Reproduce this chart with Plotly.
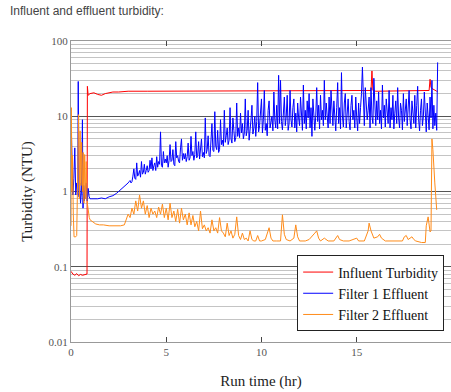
import plotly.graph_objects as go

# ---------------- data ----------------
influent_t = [0, 0.1, 0.2, 0.3, 0.4, 0.5, 0.6, 0.7, 0.8, 0.84, 0.86, 0.9, 1.0, 1.2, 1.4,
              1.6, 1.8, 2.0, 2.2, 2.5, 3, 4, 5, 6, 7, 8, 9, 10, 11, 12, 13, 14, 15,
              15.6, 15.75, 15.8, 15.85, 16, 17, 18, 18.6, 18.8, 18.85, 18.9, 19.0,
              19.1, 19.2, 19.25]
influent_v = [0.087, 0.08, 0.077, 0.081, 0.076, 0.079, 0.077, 0.078, 0.079, 0.08, 25, 19,
              20, 20.5, 19.5, 19, 20, 20.5, 21, 21, 21.5, 21.5, 21.5, 21.8, 21.5, 21.6,
              21.5, 21.7, 21.5, 21.6, 21.5, 21.7, 21.5, 21.6, 22, 40, 22, 21.5, 21.6,
              21.5, 21.7, 22, 31, 24, 23, 22, 21.5, 21.5]

# Filter 1: start-up part (irregular sampling)
filter1_start_t = [0, 0.02, 0.05, 0.1, 0.15, 0.2, 0.25, 0.3, 0.35, 0.38, 0.42, 0.46, 0.5,
                   0.55, 0.6, 0.63, 0.67, 0.7, 0.75, 0.8, 0.85, 0.9, 0.95, 1.0, 1.1, 1.2,
                   1.4, 1.6, 1.8, 2.0, 2.2, 2.4, 2.6, 2.8]
filter1_start_v = [4, 6.5, 3, 0.9, 1.5, 3.8, 0.9, 1.3, 0.9, 29, 0.85, 1.3, 0.7,
                   1.0, 9, 0.6, 1.2, 0.75, 1.1, 1.3, 0.75, 1.1, 0.85, 0.8, 0.8, 0.8,
                   0.8, 0.82, 0.8, 0.85, 0.88, 0.95, 1.05, 1.15]
# Filter 1: from 3.0 h, one reading every 0.05 h (rows = one hour each)
filter1_run_v = [
    1.3, 1.35, 1.4, 1.3, 1.35, 1.6, 2.0, 1.5, 1.45, 2.4, 1.6, 1.7, 1.9, 1.55, 2.5, 1.7, 1.8, 2.3, 1.7, 1.9,
    2.2, 1.8, 1.9, 2.6, 2.0, 2.8, 1.9, 2.2, 2.4, 1.9, 2.9, 2.1, 2.5, 2.3, 6.2, 2.2, 2.1, 3.4, 2.4, 2.7,
    2.4, 3.0, 2.1, 2.6, 4.2, 2.5, 2.6, 3.6, 2.3, 2.2, 4.6, 2.8, 3.0, 2.5, 2.4, 3.8, 5.0, 2.6, 3.2, 2.7,
    3.2, 2.5, 2.9, 4.4, 2.6, 2.8, 5.4, 3.0, 3.4, 2.6, 3.1, 6.2, 2.8, 3.0, 4.6, 2.7, 3.6, 5.0, 2.9, 3.3,
    2.8, 9.5, 3.2, 3.6, 5.5, 3.0, 2.9, 4.2, 8.0, 3.5, 3.4, 11.5, 4.0, 3.6, 6.5, 3.3, 3.6, 9.0, 4.2, 4.8,
    4.0, 12, 4.5, 5.5, 7.0, 4.2, 4.8, 13, 5.0, 4.4, 9.5, 6.5, 4.6, 5.2, 15, 5.4, 7.0, 5.2, 11, 6.0,
    8.0, 5.0, 6.0, 17, 5.5, 6.5, 12, 4.8, 6.2, 9.0, 14, 5.8, 7.0, 10, 5.4, 8.5, 28, 6.2, 7.5, 11,
    17, 6.0, 9.0, 22, 6.5, 8.0, 5.5, 12, 16, 7.0, 8.5, 10, 6.4, 21, 9.0, 7.0, 14, 6.8, 35, 8.0,
    30, 8.5, 6.6, 12, 18, 7.5, 10, 19, 6.5, 8.0, 22, 9.0, 7.2, 13, 17, 7.0, 11, 6.2, 15, 9.5,
    7.5, 18, 10, 6.5, 26, 8.0, 12, 6.8, 16, 9.5, 20, 7.0, 13, 5.4, 17, 8.5, 6.5, 10, 24, 8.5,
    14, 6.8, 19, 9.0, 12, 7.5, 30, 9.0, 15, 10, 7.0, 18, 8.0, 22, 11, 7.5, 16, 9.5, 6.4, 13,
    28, 8.0, 13, 6.8, 38, 10, 7.2, 15, 20, 7.0, 11, 17, 8.5, 6.6, 14, 19, 9.0, 12, 7.0, 18,
    9.5, 6.4, 15, 8.0, 13, 20, 45, 11, 7.5, 24, 14, 9.0, 12, 18, 7.0, 24, 10, 8.0, 32, 11,
    7.5, 16, 9.0, 21, 8.0, 12, 6.8, 26, 9.5, 14, 7.2, 17, 10, 8.0, 22, 7.0, 13, 9.0, 19, 6.8,
    11, 16, 8.0, 24, 9.5, 7.0, 15, 12, 6.6, 20, 8.5, 11, 17, 7.5, 13, 22, 9.0, 6.8, 16, 10,
    8.0, 19, 7.0, 14, 25, 9.0, 6.4, 12, 17, 7.5, 10, 21, 8.0, 6.2, 15, 11, 6.6, 18, 9.5, 30,
    6.8, 14, 7.5, 11, 6.5, 52]
filter1_run_t = [round(3.0 + 0.05 * i, 2) for i in range(len(filter1_run_v))]
filter1_t = filter1_start_t + filter1_run_t
filter1_v = filter1_start_v + filter1_run_v

filter2_t = [0, 0.02, 0.05, 0.08, 0.12, 0.16, 0.2, 0.25, 0.3, 0.36, 0.4, 0.44, 0.48,
             0.52, 0.56, 0.6, 0.64, 0.68, 0.72, 0.76, 0.8, 0.84, 0.88, 0.92, 0.96,
             1.0, 1.1, 1.2, 1.3, 1.5, 1.7, 2.0, 2.3, 2.6, 2.8,
             2.9, 3.0, 3.1, 3.2, 3.3, 3.4, 3.5, 3.6, 3.7, 3.8, 3.9,
             4.0, 4.1, 4.2, 4.3, 4.4, 4.5, 4.6, 4.7, 4.8, 4.9,
             5.0, 5.1, 5.2, 5.3, 5.4, 5.5, 5.6, 5.7, 5.8, 5.9,
             6.0, 6.1, 6.2, 6.3, 6.4, 6.5, 6.6, 6.7, 6.8, 6.9,
             7.0, 7.1, 7.2, 7.3, 7.4, 7.5, 7.6, 7.7, 7.8, 7.9,
             8.0, 8.1, 8.2, 8.3, 8.4, 8.5, 8.6, 8.7, 8.8, 8.9,
             9.0, 9.1, 9.2, 9.3, 9.4, 9.5, 9.6, 9.7, 9.8, 9.9,
             10.0, 10.2, 10.4, 10.5, 10.6, 10.8, 11.0, 11.1, 11.2, 11.3, 11.5, 11.7,
             11.8, 11.9, 12.0, 12.3, 12.5, 12.8, 12.9, 13.0, 13.1, 13.3, 13.5, 13.8,
             14.0, 14.1, 14.3, 14.6, 15.0, 15.1, 15.4, 15.6, 15.65, 15.75, 15.9,
             16.1, 16.2, 16.3, 16.5, 16.8, 17.0, 17.4, 17.5, 17.6, 17.7, 17.9, 18.0,
             18.1, 18.4, 18.6, 18.65, 18.75, 18.85, 18.9, 18.95, 19.0, 19.1, 19.2]
filter2_v = [0.35, 13, 1.0, 3.0, 0.5, 0.25, 0.25, 0.25, 0.26, 1.5, 10.5, 0.8, 6.4,
             1.2, 4.5, 1.0, 3.3, 0.7, 3.1, 0.8, 2.5, 0.75, 0.6, 0.5, 0.45,
             0.42, 0.4, 0.38, 0.37, 0.36, 0.36, 0.35, 0.35, 0.35, 0.36,
             0.42, 0.5, 0.45, 0.6, 0.5, 0.75, 0.55, 0.9, 0.6, 0.75, 0.5,
             0.65, 0.45, 0.6, 0.5, 0.55, 0.45, 0.62, 0.5, 0.68, 0.45,
             0.6, 0.42, 0.7, 0.45, 0.55, 0.4, 0.58, 0.38, 0.6, 0.42,
             0.5, 0.36, 0.52, 0.36, 0.48, 0.34, 0.4, 0.3, 0.55, 0.32,
             0.36, 0.3, 0.33, 0.28, 0.42, 0.3, 0.33, 0.28, 0.45, 0.3,
             0.28, 0.25, 0.38, 0.26, 0.3, 0.24, 0.27, 0.46, 0.26, 0.23,
             0.28, 0.23, 0.24, 0.22, 0.3, 0.23, 0.22, 0.22, 0.26, 0.22,
             0.22, 0.23, 0.33, 0.24, 0.22, 0.22, 0.22, 0.49, 0.27, 0.23, 0.22, 0.24,
             0.36, 0.25, 0.22, 0.22, 0.23, 0.28, 0.3, 0.24, 0.22, 0.24, 0.22, 0.22,
             0.26, 0.23, 0.22, 0.22, 0.24, 0.22, 0.22, 0.3, 0.38, 0.3, 0.24,
             0.25, 0.27, 0.24, 0.22, 0.22, 0.22, 0.22, 0.25, 0.26, 0.23, 0.25, 0.23,
             0.22, 0.21, 0.21, 0.35, 0.46, 0.29, 0.3, 5.0, 3.6, 1.3, 0.57]

series_names = ["Influent Turbidity", "Filter 1 Effluent", "Filter 2 Effluent"]
series_colors = ["#ff0000", "#0000ff", "#ff8c1a"]

y_tick_vals = [0.01, 0.1, 1, 10, 100]
y_tick_text = ["0.01", "0.1", "1", "10", "100"]
x_tick_vals = [0, 5, 10, 15]
x_tick_text = ["0", "5", "10", "15"]

minor_vals = [m * 10.0 ** e for e in range(-2, 2) for m in range(2, 10)]

SERIF = "Liberation Serif, Times New Roman, serif"

fig = go.Figure()
for t, v, name, col in zip([influent_t, filter1_t, filter2_t],
                           [influent_v, filter1_v, filter2_v],
                           series_names, series_colors):
    fig.add_trace(go.Scatter(x=t, y=v, mode="lines", name=name,
                             line=dict(color=col, width=1)))

fig.update_layout(
    width=451, height=392,
    margin=dict(l=71, r=0, t=41, b=50),
    paper_bgcolor="white", plot_bgcolor="white",
    title=dict(text="Influent and effluent turbidity:", xref="container", yref="container",
               x=10 / 451, xanchor="left", y=1 - 11 / 392, yanchor="middle",
               font=dict(family="Liberation Sans, Arial, sans-serif", size=12, color="#444")),
    showlegend=True,
    legend=dict(x=0.982, xanchor="right", y=0.035, yanchor="bottom",
                bgcolor="white", bordercolor="#222", borderwidth=1,
                font=dict(family=SERIF, size=14, color="#111"),
                tracegroupgap=0, itemwidth=30),
    xaxis=dict(range=[0, 19.95], tickmode="array", tickvals=x_tick_vals, ticktext=x_tick_text,
               ticks="inside", ticklen=5, tickcolor="#444", mirror="ticks",
               showline=True, linecolor="#999", linewidth=1, showgrid=False, zeroline=False,
               tickfont=dict(family=SERIF, size=11, color="#555"),
               title=dict(text="Run time (hr)", font=dict(family=SERIF, size=15, color="#222"),
                          standoff=18)),
    yaxis=dict(type="log", range=[-2, 2], tickmode="array", tickvals=y_tick_vals,
               ticktext=y_tick_text, ticks="", showline=True, linecolor="#999", linewidth=1,
               showgrid=True, gridcolor="#555", gridwidth=1, zeroline=False,
               tickfont=dict(family=SERIF, size=11, color="#555"),
               minor=dict(tickmode="array", tickvals=minor_vals, showgrid=True,
                          gridcolor="#c4c4c4", gridwidth=1, ticks=""),
               title=dict(text="Turbidity (NTU)", font=dict(family=SERIF, size=15, color="#222"),
                          standoff=12)),
)

fig.write_html("out.html")
